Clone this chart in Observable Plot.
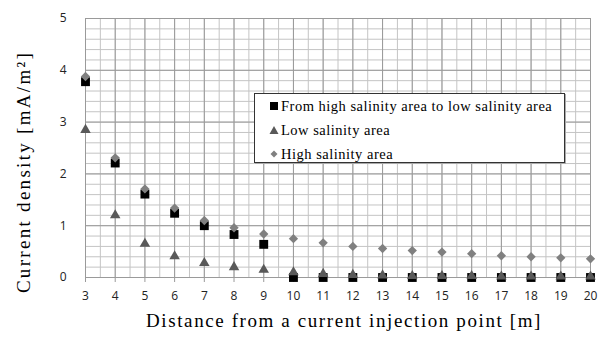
<!DOCTYPE html>
<html>
<head>
<meta charset="utf-8">
<script src="https://cdn.jsdelivr.net/npm/d3@7"></script>
<script src="https://cdn.jsdelivr.net/npm/@observablehq/plot@0.6"></script>
<style>
  html, body { margin: 0; padding: 0; background: #fff; }
  #wrap { position: relative; width: 612px; height: 347px; }
  #legend {
    position: absolute; left: 254px; top: 93px; width: 309px; height: 68px;
    border: 1px solid #333; background: #fff; box-shadow: 1px 1px 0 #aaa;
    font-family: "Liberation Serif", serif; font-size: 14.5px; color: #000;
    letter-spacing: 0.5px;
  }
  .item { position: absolute; left: 14px; height: 16px; line-height: 16px; white-space: nowrap; }
  .item svg { position: absolute; left: 0; top: 3px; }
  .item span { position: absolute; left: 12px; top: 0; font-family: "Liberation Serif", serif; }
</style>
</head>
<body>
<div id="wrap"></div>
<script>
const distance = [3,4,5,6,7,8,9,10,11,12,13,14,15,16,17,18,19,20];
const highToLow = [3.78,2.21,1.61,1.24,1.0,0.83,0.64,0,0,0,0,0,0,0,0,0,0,0];
const lowSalinity = [2.85,1.2,0.65,0.41,0.28,0.2,0.15,0.1,0.07,0.05,0.04,0.03,0.03,0.03,0.02,0.02,0.02,0.02];
const highSalinity = [3.88,2.31,1.71,1.34,1.1,0.96,0.84,0.75,0.67,0.6,0.56,0.52,0.49,0.46,0.42,0.4,0.38,0.36];
const seriesNames = ["From high salinity area to low salinity area", "Low salinity area", "High salinity area"];
const xTicks = d3.range(3, 21);
const yTicks = [0,1,2,3,4,5];
const xTitle = "Distance from a current injection point [m]";
const yTitle = "Current density [mA/m²]";

const rows = (vals) => distance.map((d, i) => ({x: d, y: vals[i]}));
const minorX = d3.range(3, 20.001, 0.5);
const minorY = d3.range(0, 5.001, 0.2);

const chart = Plot.plot({
  width: 612, height: 347,
  marginLeft: 85, marginRight: 22, marginTop: 18, marginBottom: 70,
  x: {domain: [3, 20]},
  y: {domain: [0, 5]},
  style: {background: "#fff"},
  marks: [
    Plot.ruleX(minorX, {stroke: "#c4c4c4", strokeWidth: 1}),
    Plot.ruleY(minorY, {stroke: "#c4c4c4", strokeWidth: 1}),
    Plot.ruleX(xTicks, {stroke: "#9a9a9a", strokeWidth: 1}),
    Plot.ruleY(yTicks, {stroke: "#9a9a9a", strokeWidth: 1}),
    Plot.axisX({ticks: xTicks, tickSize: 5, tickPadding: 9, stroke: "#9a9a9a", label: null,
      fontSize: 12, fontFamily: "'Open Sans', sans-serif", fill: "#222"}),
    Plot.axisY({ticks: yTicks, tickSize: 0, tickPadding: 19, label: null, tickFormat: d3.format("d"),
      fontSize: 12, fontFamily: "'Open Sans', sans-serif", fill: "#222"}),
    Plot.dot(rows(highToLow), {x: "x", y: "y", symbol: "square", r: 5.0, fill: "#000", stroke: "none"}),
    Plot.dot(rows(lowSalinity), {x: "x", y: "y", symbol: "triangle", r: 3.9, fill: "#595959", stroke: "none"}),
    Plot.dot(rows(highSalinity), {x: "x", y: "y", symbol: "diamond2", r: 4.2, fill: "#808080", stroke: "none"}),
    Plot.text([xTitle], {frameAnchor: "bottom", dx: 6, dy: 49, fontSize: 19, fontFamily: "'Liberation Serif', serif",
      fill: "#000", textAnchor: "middle"}),
    Plot.text([yTitle], {frameAnchor: "left", dx: -62, dy: 24, rotate: -90, fontSize: 19, textAnchor: "middle",
      fontFamily: "'Liberation Serif', serif", fill: "#000"})
  ]
});
document.getElementById("wrap").appendChild(chart);
chart.querySelectorAll("text").forEach(t => {
  if (t.textContent === xTitle) t.style.letterSpacing = "1.6px";
  if (t.textContent === yTitle) t.style.letterSpacing = "2.3px";
});

const legend = document.createElement("div");
legend.id = "legend";
const sym = [
  '<svg width="10" height="10"><rect x="1" y="1" width="8" height="8" fill="#000"/></svg>',
  '<svg width="10" height="10"><path d="M5,1L9.5,9H0.5Z" fill="#595959"/></svg>',
  '<svg width="10" height="10"><path d="M5,1.5L8.5,5L5,8.5L1.5,5Z" fill="#808080"/></svg>'
];
seriesNames.forEach((n, i) => {
  const it = document.createElement("div");
  it.className = "item";
  it.style.top = (4 + i * 24) + "px";
  it.innerHTML = sym[i] + "<span>" + n + "</span>";
  legend.appendChild(it);
});
document.getElementById("wrap").appendChild(legend);
</script>
</body>
</html>
